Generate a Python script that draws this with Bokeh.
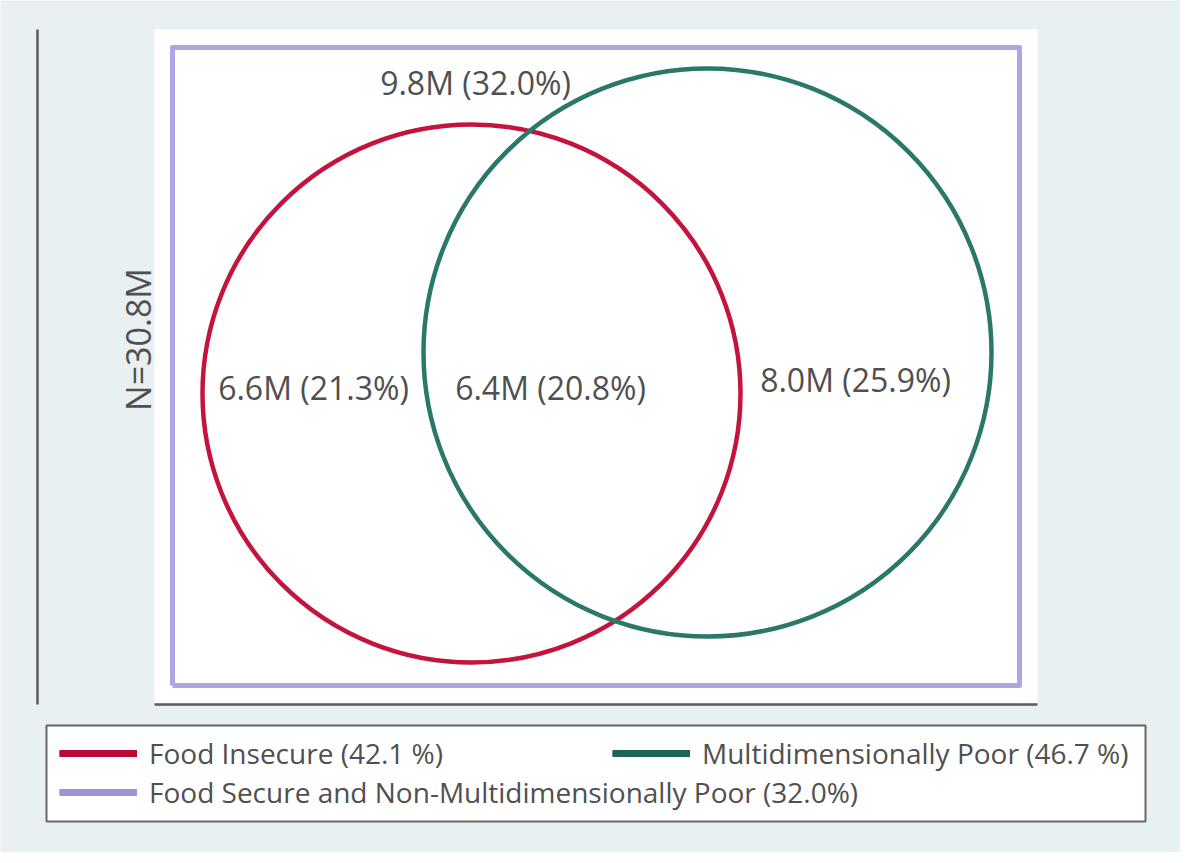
import numpy as np
from bokeh.plotting import figure
from bokeh.models import Range1d, ColumnDataSource, Legend, LegendItem
from bokeh.core.properties import value
from bokeh.embed import file_html
from bokeh.resources import INLINE

# ---------------- data ----------------
set_labels = [
    "Food Insecure (42.1 %)",
    "Multidimensionally Poor (46.7 %)",
    "Food Secure and Non-Multidimensionally Poor (32.0%)",
]
region_millions = [9.8, 6.6, 6.4, 8.0]
region_pct = [32.0, 21.3, 20.8, 25.9]
region_x = [303, 141, 378, 683]
region_y = [603, 298, 298, 306]
circle_cx = [299, 535]
circle_cy = [292, 333]
circle_r = [269, 284]
universe_x = [0, 847]
universe_y = [0, 638]
total_label = "N=30.8M"

# ---------------- styles ----------------
BG = "#e8f0f2"
TXT = "#505050"
FONT = value("Open Sans")
colors = ["#c4143e", "#2a7868", "#aea6e2"]
legend_colors = ["#b80a32", "#1f6458", "#9c94d6"]

p = figure(width=1180, height=852,
           x_range=Range1d(-172, 1008), y_range=Range1d(-167, 685),
           output_backend="svg", toolbar_location=None,
           x_axis_location=None, y_axis_location=None,
           min_border=0, background_fill_color=BG, border_fill_color=BG,
           outline_line_color=None)
for g in p.grid:
    g.visible = False

# plot region (white) and axis lines
p.quad(left=[-18], right=[865], bottom=[-19], top=[656],
       fill_color="white", line_color=None)
p.segment(x0=[-135, -18], y0=[-19, -19], x1=[-135, 865], y1=[656, -19],
          line_color="#5a5a5a", line_width=2.5)

# universe rectangle
ux = [universe_x[0], universe_x[1], universe_x[1], universe_x[0], universe_x[0]]
uy = [universe_y[0], universe_y[0], universe_y[1], universe_y[1], universe_y[0]]
r_univ = p.line(ux, uy, line_color=colors[2], line_width=5, line_join="round")

# circles
r_circles = []
for i in range(2):
    src = ColumnDataSource(dict(x=[circle_cx[i]], y=[circle_cy[i]], r=[circle_r[i]]))
    rr = p.arc(x="x", y="y", radius="r", start_angle=0, end_angle=2 * np.pi,
               line_color=colors[i], line_width=4.5, source=src)
    r_circles.append(rr)

# region labels
labels = [f"{m:.1f}M ({q:.1f}%)" for m, q in zip(region_millions, region_pct)]
p.text(x=region_x, y=region_y, text=labels, text_align="center",
       text_baseline="middle", text_font=FONT, text_font_size="32px",
       text_color=TXT)

# total label (y title)
p.text(x=[-35], y=[346], text=[total_label], angle=np.pi / 2,
       text_align="center", text_baseline="middle", text_font=FONT,
       text_font_size="34px", text_color=TXT)

# legend frame
p.quad(left=[-126], right=[973], bottom=[-136], top=[-40],
       fill_color="white", line_color="#666666", line_width=2)

# legend sample lines (thicker, one NaN point so they are drawn in the legend only)
dummies = [p.line(x=[np.nan], y=[np.nan], line_color=c, line_width=7) for c in legend_colors]
renderers = [r_circles[0], r_circles[1], r_univ]
locs = [(59, 80), (612, 80), (59, 41)]
for i in range(3):
    leg = Legend(items=[LegendItem(label=set_labels[i], renderers=[renderers[i], dummies[i]])],
                 location=locs[i], orientation="vertical", padding=0, margin=0,
                 spacing=0, glyph_width=78, glyph_height=30, label_standoff=12,
                 label_text_font="Open Sans", label_text_font_size="28px",
                 label_text_color=TXT, label_text_baseline="middle",
                 background_fill_alpha=0, border_line_alpha=0)
    p.add_layout(leg, "center")

open("out.html", "w").write(file_html(p, INLINE))
